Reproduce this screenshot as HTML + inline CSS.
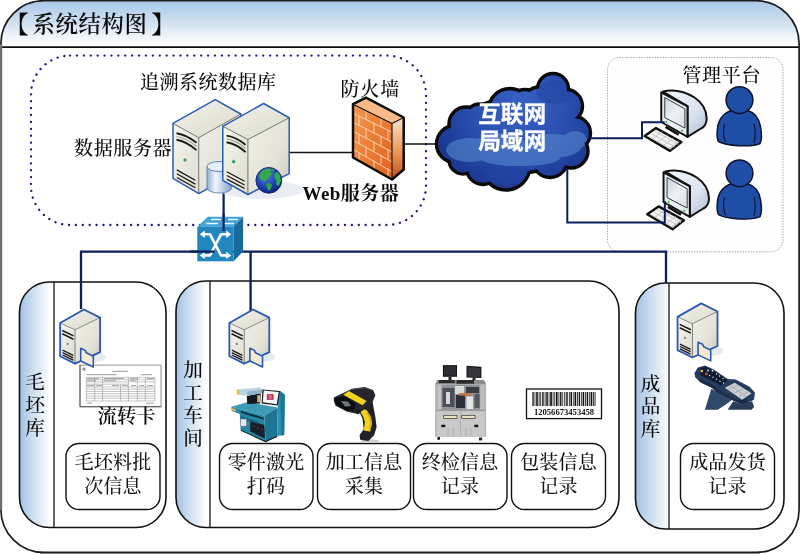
<!DOCTYPE html>
<html lang="zh-CN">
<head>
<meta charset="utf-8">
<title>系统结构图</title>
<style>
html,body{margin:0;padding:0;background:#fff;}
body{width:800px;height:554px;overflow:hidden;position:relative;}
svg{position:absolute;left:0;top:0;display:block;will-change:transform;}
.song{font-family:"Liberation Serif","Noto Serif CJK SC",serif;}
.hei{font-family:"Liberation Sans","Noto Sans CJK SC",sans-serif;}
</style>
</head>
<body>
<svg width="800" height="554" viewBox="0 0 800 554">
<defs>
  <linearGradient id="hdr" x1="0" y1="0" x2="0" y2="1">
    <stop offset="0" stop-color="#a7c8e6"/>
    <stop offset="0.45" stop-color="#cddff0"/>
    <stop offset="0.85" stop-color="#f6f9fc"/>
    <stop offset="1" stop-color="#ffffff"/>
  </linearGradient>
  <linearGradient id="colA" x1="0" y1="0" x2="1" y2="0">
    <stop offset="0" stop-color="#a3c2e3"/>
    <stop offset="0.45" stop-color="#d3e2f2"/>
    <stop offset="0.9" stop-color="#ffffff"/>
  </linearGradient>
  <linearGradient id="colB" x1="0" y1="0" x2="1" y2="0">
    <stop offset="0" stop-color="#a4c3e4"/>
    <stop offset="0.5" stop-color="#d0e0f1"/>
    <stop offset="1" stop-color="#fbfdff"/>
  </linearGradient>
  <linearGradient id="srvTop" x1="0" y1="0" x2="1" y2="1">
    <stop offset="0" stop-color="#f3f3ea"/><stop offset="1" stop-color="#d9d9cd"/>
  </linearGradient>
  <linearGradient id="srvFront" x1="0" y1="0" x2="1" y2="1">
    <stop offset="0" stop-color="#f6f6ee"/><stop offset="1" stop-color="#dcdcd0"/>
  </linearGradient>
  <linearGradient id="srvSide" x1="0" y1="0" x2="1" y2="1">
    <stop offset="0" stop-color="#f0f0e7"/><stop offset="0.6" stop-color="#e3e3d8"/><stop offset="1" stop-color="#c9c9bd"/>
  </linearGradient>
  <linearGradient id="dbBody" x1="0" y1="0" x2="1" y2="0">
    <stop offset="0" stop-color="#8fb0d6"/><stop offset="0.35" stop-color="#f2f7fc"/><stop offset="1" stop-color="#7f9fc8"/>
  </linearGradient>
  <radialGradient id="globeG" cx="0.38" cy="0.32" r="0.75">
    <stop offset="0" stop-color="#4f7fe0"/><stop offset="0.6" stop-color="#1f3fae"/><stop offset="1" stop-color="#0d1f6e"/>
  </radialGradient>
  <linearGradient id="fwFront" x1="0" y1="0" x2="1" y2="1">
    <stop offset="0" stop-color="#f59a52"/><stop offset="1" stop-color="#e2601a"/>
  </linearGradient>
  <linearGradient id="fwSide" x1="0" y1="0" x2="0" y2="1">
    <stop offset="0" stop-color="#f9e2cc"/><stop offset="0.5" stop-color="#f0a060"/><stop offset="1" stop-color="#c24e10"/>
  </linearGradient>
  <radialGradient id="cloudG" gradientUnits="userSpaceOnUse" cx="520" cy="105" r="95">
    <stop offset="0" stop-color="#3762c4"/><stop offset="0.5" stop-color="#2a4fb0"/><stop offset="1" stop-color="#19348e"/>
  </radialGradient>
  <linearGradient id="crtBack" x1="0" y1="0" x2="1" y2="1">
    <stop offset="0" stop-color="#f4f7fb"/><stop offset="0.6" stop-color="#dbe3ef"/><stop offset="1" stop-color="#aebcd4"/>
  </linearGradient>
  <linearGradient id="crtScreen" x1="0" y1="0" x2="1" y2="1">
    <stop offset="0" stop-color="#c9d3e2"/><stop offset="0.5" stop-color="#eef2f7"/><stop offset="1" stop-color="#d5dde9"/>
  </linearGradient>
  <g id="cloudCircles">
    <circle cx="455" cy="144" r="16.8"/><circle cx="466" cy="124" r="15.3"/><circle cx="480" cy="120" r="14.3"/><circle cx="510" cy="110" r="19.8"/><circle cx="525" cy="105" r="13.8"/><circle cx="553" cy="89" r="13.8"/><circle cx="566" cy="106" r="14.8"/><circle cx="574" cy="133" r="14.8"/><circle cx="571" cy="151" r="15.3"/><circle cx="550" cy="160" r="15.8"/><circle cx="506" cy="166" r="22.3"/><circle cx="463" cy="160" r="12.3"/><circle cx="483" cy="168" r="14.8"/><ellipse cx="515" cy="136" rx="58" ry="36"/><circle cx="543" cy="112" r="24"/><circle cx="495" cy="140" r="30"/><circle cx="548" cy="138" r="30"/><circle cx="470" cy="142" r="18"/>
  </g>
  <g id="pcMon">
    <path d="M663 91.500C672 89.500 684 91 694.500 97.500C702 102.500 706.500 110 706.700 118.500C706.500 124 703.500 127.500 701 128.500L687.500 136.900V106.250Z" fill="url(#crtBack)" stroke="#111" stroke-width="2" stroke-linejoin="round"/>
    <polygon points="661.250,92.250 687.500,106.250 687.500,136.900 661.250,122" fill="#e9edf3" stroke="#111" stroke-width="2" stroke-linejoin="round"/>
    <polygon points="664.750,97.500 684.900,108.900 684.900,128.100 664.750,117.600" fill="url(#crtScreen)" stroke="#3a3a3a" stroke-width="1"/>
    <path d="M665.600 126.800L678.750 134.600" stroke="#111" stroke-width="2.600"/>
    <circle cx="666.300" cy="122" r="1.500" fill="#5ab85a" stroke="#e8f6e8" stroke-width="0.600"/>
    <circle cx="681.900" cy="130.750" r="1.500" fill="#5ab85a" stroke="#e8f6e8" stroke-width="0.600"/>
  </g>
  <g id="pcKb">
    <polygon points="644.600,136 656,128.100 681.400,142.100 670,150.900" fill="#f2f2f2" stroke="#111" stroke-width="2.400" stroke-linejoin="round"/>
    <path d="M648.500 136.500l23 13M652 134l23 13M655.500 131.500l23 13M652.500 139l10-7.500M658 142.200l10-7.500M663.500 145.400l10-7.500M669 148.500l10-7.500" stroke="#b8b8b8" stroke-width="0.700" fill="none"/>
  </g>
  <g id="person">
    <path d="M731.500 110.500C724 112.500 718.500 119 717.500 128C716.800 134 717 139 718.500 141.500C726 146 752 147.500 760 143.500C761.800 140 761.500 132 760.500 126.500C759 118 754.500 112.500 747.500 110.500Z" fill="#1f4ea6" stroke="#0c1430" stroke-width="1.500" stroke-linejoin="round"/>
    <path d="M724.500 124C723 130 723.500 137 725.500 142M754 123.500C755.500 130 755.500 137 754 143" fill="none" stroke="#0c1430" stroke-width="1.100"/>
    <circle cx="739.500" cy="100.100" r="13.400" fill="#1f4ea6" stroke="#0c1430" stroke-width="1.500"/>
  </g>
  <clipPath id="cloudClip"><circle cx="455" cy="144" r="16.8"/><circle cx="466" cy="124" r="15.3"/><circle cx="480" cy="120" r="14.3"/><circle cx="510" cy="110" r="19.8"/><circle cx="525" cy="105" r="13.8"/><circle cx="553" cy="89" r="13.8"/><circle cx="566" cy="106" r="14.8"/><circle cx="574" cy="133" r="14.8"/><circle cx="571" cy="151" r="15.3"/><circle cx="550" cy="160" r="15.8"/><circle cx="506" cy="166" r="22.3"/><circle cx="463" cy="160" r="12.3"/><circle cx="483" cy="168" r="14.8"/><ellipse cx="515" cy="136" rx="58" ry="36"/><circle cx="543" cy="112" r="24"/><circle cx="495" cy="140" r="30"/><circle cx="548" cy="138" r="30"/><circle cx="470" cy="142" r="18"/></clipPath>
  <g id="ssrv" stroke-linejoin="round">
    <ellipse cx="93" cy="357" rx="13" ry="5" fill="#dfe5f0" opacity="0.800"/>
    <polygon points="60.150,323 83.850,309.500 100.100,317.600 75.050,329.800" fill="url(#srvTop)"/>
    <polygon points="75.050,329.800 100.100,317.600 100.100,352.100 75.050,363.600" fill="url(#srvSide)"/>
    <polygon points="60.150,323 75.050,329.800 75.050,363.600 60.150,356.200" fill="url(#srvFront)"/>
    <path d="M62.300 330.500l11.200 5.400M62.300 333.800l11.200 5.400" stroke="#1a1a1a" stroke-width="1.500" fill="none"/>
    <circle cx="67.600" cy="344" r="1.400" fill="#6a7a72" stroke="#f4f4f0" stroke-width="0.600"/>
    <path d="M62.600 350.200l10.600 5.200M62.600 352.600l10.600 5.200M62.600 355l10.600 5.200" stroke="#1a1a1a" stroke-width="1.300" fill="none"/>
    <path d="M75.050 329.800V363.600" stroke="#555" stroke-width="0.700"/>
    <path d="M60.150,323 75.050,329.800 100.100,317.600" fill="none" stroke="#444" stroke-width="0.600"/>
    <path d="M60.150,323 83.850,309.500 100.100,317.600 100.100,352.100 75.050,363.600 60.150,356.200Z" fill="none" stroke="#2a58b2" stroke-width="1.800"/>
    <path d="M80.700 348.300L85.200 350.400L86.300 352.800L93.300 356.200V367L80.700 361Z" fill="#f3ecd0" stroke="#2a58b2" stroke-width="1.600"/>
  </g>
  <clipPath id="frameClip"><rect x="0.900" y="0.700" width="798.200" height="551.700" rx="43" ry="43"/></clipPath>
  <clipPath id="clipM"><rect x="19.5" y="282" width="146.500" height="245.500" rx="30" ry="30"/></clipPath>
  <clipPath id="clipJ"><rect x="176" y="281" width="443" height="246.500" rx="30" ry="30"/></clipPath>
  <clipPath id="clipC"><rect x="635.500" y="283" width="148.500" height="246" rx="30" ry="30"/></clipPath>
</defs>

<!-- ===== outer frame ===== -->
<g id="frame">
  <rect x="0.900" y="0.700" width="798.200" height="551.700" rx="43" ry="43" fill="#fff"/>
  <rect x="0" y="0" width="800" height="47" fill="url(#hdr)" clip-path="url(#frameClip)"/>
  <line x1="1" y1="47.100" x2="799" y2="47.100" stroke="#111" stroke-width="1.700"/>
  <rect x="0.900" y="0.700" width="798.200" height="551.700" rx="43" ry="43" fill="none" stroke="#1c1c1c" stroke-width="1.700"/>
  <rect x="0" y="44" width="2.200" height="466" fill="#6f6d6d"/>
  <rect x="40" y="553.200" width="720" height="0.800" fill="#7a7a7a"/>
  <g class="song" font-weight="600" fill="#0a0a0a">
    <text x="4.800" y="32.500" font-size="24">【</text>
    <text x="32.600" y="32" font-size="22.400" letter-spacing="0.600">系统结构图</text>
    <text x="151.300" y="32.500" font-size="24">】</text>
  </g>
</g>

<!-- ===== dotted database zone ===== -->
<g id="dotted">
  <rect x="31" y="55.600" width="395" height="169.400" rx="39" ry="39" fill="none" stroke="#18188c" stroke-width="2.300" stroke-linecap="round" stroke-dasharray="0.100 6.800"/>
  <rect x="607.500" y="57.500" width="175.500" height="194.300" rx="12" ry="12" fill="#fefefe" stroke="#9a9a9a" stroke-width="0.800" stroke-dasharray="1.500 1.200"/>
</g>
<!-- ===== workshop / warehouse panels ===== -->
<g id="boxes">
  <rect x="19.500" y="282" width="146.500" height="245.500" rx="30" ry="30" fill="#fff"/>
  <rect x="19.500" y="282" width="34.500" height="245.500" fill="url(#colA)" clip-path="url(#clipM)"/>
  <line x1="54" y1="282" x2="54" y2="527.500" stroke="#111" stroke-width="1.300"/>
  <rect x="19.500" y="282" width="146.500" height="245.500" rx="30" ry="30" fill="none" stroke="#111" stroke-width="1.600"/>

  <rect x="176" y="281" width="443" height="246.500" rx="30" ry="30" fill="#fff"/>
  <rect x="176" y="281" width="34" height="246.500" fill="url(#colA)" clip-path="url(#clipJ)"/>
  <line x1="210" y1="281" x2="210" y2="527.500" stroke="#111" stroke-width="1.300"/>
  <rect x="176" y="281" width="443" height="246.500" rx="30" ry="30" fill="none" stroke="#111" stroke-width="1.600"/>

  <rect x="635.500" y="283" width="148.500" height="246" rx="30" ry="30" fill="#fff"/>
  <rect x="635.500" y="283" width="33.500" height="246" fill="url(#colB)" clip-path="url(#clipC)"/>
  <line x1="669" y1="283" x2="669" y2="529" stroke="#111" stroke-width="1.300"/>
  <rect x="635.500" y="283" width="148.500" height="246" rx="30" ry="30" fill="none" stroke="#111" stroke-width="1.600"/>

  <g fill="#fff" stroke="#111" stroke-width="1.400">
    <rect x="66" y="443.500" width="94" height="66" rx="13" ry="13"/>
    <rect x="219.500" y="443.500" width="93.500" height="66" rx="13" ry="13"/>
    <rect x="317.500" y="443.500" width="93" height="66" rx="13" ry="13"/>
    <rect x="413.500" y="443.500" width="93.500" height="66" rx="13" ry="13"/>
    <rect x="511.500" y="443.500" width="94" height="66" rx="13" ry="13"/>
    <rect x="680.500" y="443.500" width="94" height="66" rx="13" ry="13"/>
  </g>
</g>
<!-- ===== network lines ===== -->
<g id="lines" fill="none" stroke="#0b1d5a" stroke-width="2.300">
  <path d="M81 309V251.600H666V283"/>
  <path d="M250.600 251.600V311"/>
  <path d="M223.600 193V232" stroke-width="2.200"/>
  <path d="M288 152.500H353" stroke="#111" stroke-width="1.600"/>
  <path d="M403 144H440" stroke="#111" stroke-width="1.600"/>
</g>
<!-- ===== big servers ===== -->
<g id="servers" stroke-linejoin="round">
  <ellipse cx="262" cy="190" rx="42" ry="9" fill="#dfe4ee" opacity="0.700"/>
  <!-- server 1 -->
  <g>
    <polygon points="173,123.400 215.200,99.700 240.800,114 198.750,137.700" fill="url(#srvTop)"/>
    <polygon points="198.750,137.700 240.800,114 240.800,170 198.750,193.600" fill="url(#srvSide)"/>
    <polygon points="173,123.400 198.750,137.700 198.750,193.600 173,178.400" fill="url(#srvFront)"/>
    <path d="M176.500 133.300q10 1.500 20 9.500M176.500 139.800q10 1.800 20 10.300" stroke="#1a1a1a" stroke-width="1.900" fill="none"/>
    <path d="M176.500 136.500q10 1.600 20 9.800" stroke="#a5a59a" stroke-width="1.200" fill="none"/>
    <circle cx="185" cy="160" r="2.100" fill="#2f9a5a" stroke="#e8f4ec" stroke-width="0.800"/>
    <path d="M176.800 169.900l18.500 10.400M176.800 173.700l18.500 10.400M176.800 177.500l18.500 10.200" stroke="#1a1a1a" stroke-width="1.300" fill="none"/>
    <path d="M198.750,137.700V193.600" stroke="#555" stroke-width="0.800"/>
    <path d="M173,123.400 215.200,99.700 240.800,114 240.800,170 198.750,193.600 173,178.400Z" fill="none" stroke="#2a5cb4" stroke-width="1.500"/>
    <path d="M173,123.400 198.750,137.700 240.800,114" fill="none" stroke="#444" stroke-width="0.700"/>
  </g>
  <!-- database cylinder -->
  <g>
    <path d="M207 166.500V188A12.250 5 0 0 0 231.500 188V166.500Z" fill="url(#dbBody)" stroke="#5f82b4" stroke-width="0.900"/>
    <ellipse cx="219.250" cy="166.500" rx="12.250" ry="5" fill="#e6eef8" stroke="#5a80b8" stroke-width="1"/>
  </g>
  <!-- server 2 -->
  <g>
    <polygon points="222.800,126.300 263.600,103.500 289.200,117.750 247.900,139.600" fill="url(#srvTop)"/>
    <polygon points="247.900,139.600 289.200,117.750 289.200,173.700 247.900,194.500" fill="url(#srvSide)"/>
    <polygon points="222.800,126.300 247.900,139.600 247.900,194.500 222.800,180.300" fill="url(#srvFront)"/>
    <path d="M226.600 135.600q10 1.500 19 9.300M226.600 142.200q10 1.800 19 9.900" stroke="#1a1a1a" stroke-width="1.900" fill="none"/>
    <path d="M226.600 138.900q10 1.600 19 9.600" stroke="#a5a59a" stroke-width="1.200" fill="none"/>
    <circle cx="233.600" cy="161.700" r="2.100" fill="#2f9a5a" stroke="#e8f4ec" stroke-width="0.800"/>
    <path d="M226.800 171.800l17.800 9.500M226.800 175.500l17.800 9.500M226.800 179.200l17.800 9.300" stroke="#1a1a1a" stroke-width="1.300" fill="none"/>
    <path d="M247.900,139.600V194.500" stroke="#555" stroke-width="0.800"/>
    <path d="M222.800,126.300 263.600,103.500 289.200,117.750 289.200,173.700 247.900,194.500 222.800,180.300Z" fill="none" stroke="#2a5cb4" stroke-width="1.500"/>
    <path d="M222.800,126.300 247.900,139.600 289.200,117.750" fill="none" stroke="#444" stroke-width="0.700"/>
  </g>
  <!-- globe -->
  <g>
    <circle cx="268.850" cy="180.300" r="12.900" fill="url(#globeG)"/>
    <path d="M259.6,174.1 263.0,170.2 267.5,168.5 272.0,169.1 270.3,171.9 273.1,173.6 269.7,175.8 267.5,179.2 264.1,181.4 261.3,180.3 259.1,177.5Z" fill="#35a84c"/>
    <path d="M274.8,173.0 277.6,171.9 280.4,175.2 281.0,180.9 278.7,185.9 275.9,184.2 276.5,180.3 274.2,177.5Z" fill="#35a84c"/>
    <path d="M265.8,184.2 269.2,182.6 272.0,184.8 270.9,188.7 268.1,191.0 266.9,187.6Z" fill="#2fa048"/>
    <path d="M272.0,169.6 274.8,169.4 274.2,171.3 272.6,171.6Z" fill="#35a84c"/>
    <circle cx="268.850" cy="180.300" r="12.900" fill="none" stroke="#12206a" stroke-width="0.900"/>
  </g>
</g>

<!-- ===== firewall ===== -->
<g id="firewall" stroke-linejoin="round">
  <polygon points="353,104.200 366,97.700 403.700,117.500 392,123.500" fill="#f7b98a"/>
  <polygon points="392,123.500 403.700,117.500 403.700,169.500 392,179.500" fill="url(#fwSide)"/>
  <polygon points="353,104.200 392,123.500 392,179.500 353,157.500" fill="url(#fwFront)"/>
  <g stroke="#fbdcc0" stroke-width="0.900" fill="none">
    <path d="M352.500 113l40 19.400M352.500 122l40 20.300M352.500 131l40 21.200M352.500 140l40 22.100M352.500 149l40 23"/>
    <path d="M366 110.300v9.300M381 117.200v9.500M359 116.200v9.200M374 123.500v9.400M388 130.200v9.700M366 128.600v9.300M381 136v9.500M359 134.200v9.300M374 142v9.500M388 149.300v9.600M366 146.700v9.400M381 154.600v9.500M359 152.200v9M374 160.500v9.200M388 168.400v9"/>
  </g>
  <path d="M353,104.200 366,97.700 403.700,117.500 403.700,169.500 392,179.500 353,157.500Z" fill="none" stroke="#0c0c0c" stroke-width="2.500"/>
  <path d="M353,104.200 392,123.500 403.700,117.500M392,123.500V179.500" fill="none" stroke="#111" stroke-width="1.100"/>
</g>
<!-- ===== cloud ===== -->
<g id="cloud">
  <use href="#cloudCircles" fill="#0a0a0a" stroke="#0a0a0a" stroke-width="6.800"/>
  <use href="#cloudCircles" fill="url(#cloudG)" stroke="url(#cloudG)" stroke-width="0" transform="translate(0 0)"/>
  <g fill="#5b8fd2" opacity="0.550" clip-path="url(#cloudClip)">
    <ellipse cx="470" cy="150" rx="24" ry="12"/><ellipse cx="500" cy="146" rx="26" ry="13"/>
    <ellipse cx="552" cy="146" rx="30" ry="12"/><ellipse cx="575" cy="140" rx="12" ry="9"/>
    <ellipse cx="520" cy="158" rx="40" ry="8"/>
  </g>
  <g fill="#24449f" opacity="0.500" clip-path="url(#cloudClip)">
    <ellipse cx="508" cy="176" rx="22" ry="9"/><ellipse cx="556" cy="92" rx="20" ry="12"/>
  </g>
  <g class="hei" font-weight="700" font-size="22.700" fill="#fff" text-anchor="middle" stroke="#fff" stroke-width="0.300">
    <text x="512.200" y="121.700">互联网</text>
    <text x="512.200" y="148.700">局域网</text>
  </g>
</g>

<!-- ===== switch ===== -->
<g id="switch" stroke-linejoin="round">
  <polygon points="197.300,226.700 207.900,216.700 243.100,216.700 233.700,226.700" fill="#3fa3d3"/>
  <polygon points="233.700,226.700 243.100,216.700 243.100,251.300 233.700,261.300" fill="#19699b"/>
  <rect x="197.300" y="226.700" width="36.400" height="34.600" fill="#2287bf"/>
  <g stroke="#fff" stroke-width="1.300" fill="none" opacity="0.900">
    <path d="M206 223.500h12M224 223.500h10M211 219.500h10M228 219.500h10"/>
  </g>
  <g stroke="#fff" stroke-width="2.600" fill="none">
    <path d="M203 234.300H210L221 255.400H228"/>
    <path d="M228 234.300H221L210 255.400H203"/>
  </g>
  <g fill="#fff">
    <polygon points="199.800,234.300 204.800,230.600 204.800,238"/>
    <polygon points="231.200,234.300 226.200,230.600 226.200,238"/>
    <polygon points="199.800,255.400 204.800,251.700 204.800,259.100"/>
    <polygon points="231.200,255.400 226.200,251.700 226.200,259.100"/>
  </g>
  <path d="M223.600 214V231" stroke="#0b1d5a" stroke-width="2.200"/>
  <path d="M190 251.600H214.500" stroke="#0b1d5a" stroke-width="2.300"/>
</g>

<!-- ===== management PCs and users ===== -->
<use href="#pcKb"/>
<use href="#pcMon"/>
<use href="#pcKb" transform="translate(2.600 78.300)"/>
<use href="#pcMon" transform="translate(2.300 80)"/>
<use href="#person"/>
<use href="#person" transform="translate(0 73.200)"/>
<g fill="none" stroke="#0b1d5a" stroke-width="2">
  <path d="M588 138.300H642V122.300H664.500"/>
  <path d="M567.300 168V222.600H664.800V201"/>
</g>
<!-- ===== routing card document ===== -->
<g id="doc">
  <rect x="81" y="366" width="81" height="41.600" fill="#d8d8d8" opacity="0.700"/>
  <rect x="80" y="365.100" width="81" height="41.600" fill="#fff" stroke="#8a8a8a" stroke-width="0.900"/>
  <path d="M80 365.100V406.700H161" fill="none" stroke="#555" stroke-width="1"/>
  <circle cx="84" cy="369.200" r="1.200" fill="#fff" stroke="#333" stroke-width="0.700"/>
  <path d="M112 371.300h16M86.500 374.700h30M141 374.700h11" stroke="#8f8f8f" stroke-width="0.900"/>
  <g stroke="#808080" stroke-width="0.450" fill="none">
    <path d="M86.250 377.400H154.900M86.250 379.700H154.900M86.250 381.900H154.900M86.250 384.200H128.400M86.250 387H154.900M86.250 389.200H154.900M86.250 391.500H154.900M86.250 393.700H154.900M86.250 396H154.900M86.250 398.200H154.900M86.250 401H154.900"/>
    <path d="M86.250 377.400V401M94.700 377.400V401M102.600 377.400V401M120.600 384.200V401M128.400 377.400V401M137.400 377.400V401M145.300 377.400V401M154.900 377.400V401"/>
  </g>
  <path d="M87 378.600h12M104 378.600h20M130 378.600h8M147 378.600h7M87 380.800h9M104 380.800h12M130 380.800h6M87 385.600h7M96 385.600h6M112 385.600h7M122 385.600h6M131 385.600h5M139 385.600h5M147 385.600h6M87 403.200h5M146 403.200h8" stroke="#8a8a8a" stroke-width="0.800"/>
</g>

<!-- ===== small servers ===== -->
<use href="#ssrv"/>
<use href="#ssrv" transform="translate(169.200 0)"/>
<use href="#ssrv" transform="translate(617.400 -6.100)"/>

<!-- ===== laser marking machine ===== -->
<g id="laser" stroke-linejoin="round">
  <polygon points="240.800,428 265.500,439.500 277.200,434.500 277.200,437 265.500,442.200 240.800,430.800" fill="#10161e"/>
  <polygon points="277.800,392.900 280.100,391.100 284.800,394.700 284.200,435.100 277.200,436 277.800,408.700" fill="#2a93b2"/>
  <polygon points="280.100,391.100 284.800,394.700 284.200,435.100 281.500,435.600" fill="#1f7593"/>
  <polygon points="231.400,406.700 247.900,402 277.800,407.600 264.300,415.800" fill="#3d9bb8"/>
  <polygon points="231.400,406.700 264.300,415.800 265.500,441 240.800,429.800 239.700,414 231.800,411.100" fill="#2487a6"/>
  <polygon points="264.300,415.800 277.800,407.600 277.200,435.700 265.500,441" fill="#1e7694"/>
  <polygon points="250.200,420.500 264.300,425.100 264.900,438.600 250.200,431.600" fill="#16202c"/>
  <polygon points="240.800,410.700 263.700,417.750 263.700,419.800 240.800,412.700" fill="#15303c"/><polygon points="240.800,416.200 258,421.600 258,423.800 240.800,418.200" fill="#1a5f7a"/>
  <rect x="240.400" y="418.900" width="6.200" height="7.400" fill="#e4e8ea" stroke="#4a5a60" stroke-width="0.500"/>
  <path d="M253 426.500h1.500M257 428h1.500M261 429.500h1.500" stroke="#c03030" stroke-width="1.200"/>
  <polygon points="232,408.100 236,409.300 236,411.500 232,410.400" fill="#d9b458"/>
  <polygon points="246.700,395.800 260.800,392.900 260.200,403.500 247.300,404" fill="#141a22"/>
  <polygon points="236.700,389.400 260.200,387.600 263.100,390 262.500,392.900 247.300,395.800 237.300,394.700" fill="#b9d3e2"/>
  <polygon points="247.300,391.500 262.800,390 262.500,392.900 247.300,395.800" fill="#8fb3c8"/>
  <rect x="236.700" y="390" width="3" height="4.200" fill="#e6c63e"/>
  <rect x="257.200" y="395.200" width="3" height="7.100" fill="#d8b070"/>
  <polygon points="262.500,389.400 279.900,391.100 277.800,405.600 261.600,403.500" fill="#15181c"/>
  <polygon points="263.700,390.600 278.700,392.100 276.800,404.300 262.800,402.300" fill="#f4f6f8"/>
  <rect x="266.800" y="394.100" width="6.800" height="5.800" fill="#c03450"/>
  <path d="M268.500 396h3.400M268.500 398h3.400" stroke="#f4d8dc" stroke-width="0.700"/>
</g>

<!-- ===== barcode scanner gun ===== -->
<g id="scanner" stroke-linejoin="round">
  <ellipse cx="370" cy="441" rx="9" ry="1.800" fill="#cfcfcf"/>
  <polygon points="357.500,407.500 372.500,401.500 375.400,417.500 376.600,426.900 374.200,435.100 368.400,441 360.200,439.800 359.600,435.100 363.700,429.200 362.500,418.700" fill="#1f2126"/>
  <polygon points="360.200,411.700 364.900,409.300 370.100,415.200 371.900,423.400 370.100,431.600 363.700,430.400 364.900,422.200 363.100,416.300" fill="#f3d31c"/>
  <polygon points="364.900,409.300 367.500,410.800 371.300,418 371.900,423.400 370.100,431.600 368.600,431.300 370,423.400 368.600,416.500" fill="#d4b010"/>
  <polygon points="333.800,397.600 352,388.800 364.900,387 373.100,390 375.400,395.200 371.900,403.500 363.700,409.300 357.800,414 347.300,411.700 335.600,405.800 333.800,401.100" fill="#24262c"/>
  <polygon points="334.500,398.500 345,396 355.500,403.500 354.300,410.500 346.700,411 336.200,405.200" fill="#0c0d10"/>
  <polygon points="341,401 348,401.500 351,406 345,406.500" fill="#6f757c"/>
  <polygon points="343.200,394.700 349,391.100 366.600,401.100 362.500,405.200" fill="#f3d31c"/>
  <path d="M352 389.500L364.500 387.800L372 390.500" fill="none" stroke="#4a4d55" stroke-width="1"/>
  <polygon points="356,411 360,409.500 360.600,413 357.500,414.300" fill="#15161a"/>
</g>

<!-- ===== final inspection machine ===== -->
<g id="inspect">
  <rect x="437.400" y="437" width="2.600" height="2.800" fill="#222"/><rect x="479" y="437.600" width="3.200" height="2.800" fill="#222"/>
  <rect x="435.100" y="384" width="51" height="52.800" fill="#b4b4b4"/>
  <polygon points="437.500,380 484,380 486.100,384 435.100,384" fill="#8e8e8e"/>
  <rect x="438.800" y="380" width="16" height="3.100" fill="#2a2a2a"/><rect x="456.500" y="380" width="17.500" height="3.700" fill="#2a2a2a"/>
  <rect x="437.400" y="384.700" width="47" height="25" fill="#8f9399"/>
  <rect x="437.400" y="384.700" width="4" height="25" fill="#c4c4c4"/><rect x="480.200" y="384.700" width="4.300" height="25" fill="#bdbdbd"/>
  <rect x="442.500" y="388" width="12" height="19" fill="#4a4f58"/>
  <rect x="446" y="392" width="4" height="12" fill="#d8d8d8"/>
  <rect x="455" y="386" width="9" height="8" fill="#d9dadc"/>
  <rect x="456" y="395" width="9" height="13" fill="#2c3038"/>
  <rect x="466" y="387" width="13" height="6" fill="#3a3d44"/>
  <rect x="466.500" y="396.500" width="6.500" height="12.500" fill="#e6e6e6"/>
  <rect x="474.500" y="394" width="5" height="14" fill="#55595f"/>
  <rect x="459" y="393" width="12" height="2.600" fill="#c07a4a"/>
  <rect x="436.600" y="410.600" width="48" height="26" fill="#c9c9c9"/>
  <path d="M436.600 410.600H484.600" stroke="#8a8a8a" stroke-width="0.800"/>
  <rect x="443.700" y="415.300" width="13.300" height="3.200" fill="#e9e2c4" stroke="#333" stroke-width="0.700"/>
  <rect x="461.700" y="415.300" width="13.400" height="3.200" fill="#e9e2c4" stroke="#333" stroke-width="0.700"/>
  <rect x="441.300" y="424.700" width="4" height="2.500" fill="#1a1a1a"/><rect x="474.300" y="424.700" width="4" height="2.500" fill="#1a1a1a"/>
  <path d="M448 428v8M453 428v8M466 428v8M471 428v8M460.500 411v25" stroke="#a8a8a8" stroke-width="0.800"/>
  <rect x="442.900" y="365.100" width="14.100" height="11.700" fill="#17181b"/>
  <rect x="444" y="366.200" width="11.900" height="9.300" fill="#2c2e33"/>
  <rect x="448.500" y="376.800" width="3" height="3.200" fill="#222"/>
  <polygon points="466.500,365.800 481.400,366.800 481.400,378.100 466.500,377.500" fill="#17181b"/>
  <polygon points="467.600,367 480.300,367.900 480.300,376.900 467.600,376.400" fill="#34363c"/>
  <rect x="472.500" y="377.800" width="3" height="2.400" fill="#222"/>
</g>

<!-- ===== barcode label ===== -->
<g id="barcode">
  <rect x="526.500" y="389" width="75" height="29.600" fill="#fff" stroke="#111" stroke-width="1.300"/>
  <g fill="#111">
    <rect x="532.400" y="392" width="1.300" height="14"/><rect x="534.600" y="392" width="0.700" height="14"/><rect x="536.200" y="392" width="1.600" height="14"/>
    <rect x="538.700" y="392" width="0.800" height="14"/><rect x="540.300" y="392" width="0.800" height="14"/><rect x="542" y="392" width="1.800" height="14" fill="#444"/>
    <rect x="544.700" y="392" width="0.800" height="14"/><rect x="546.300" y="392" width="1.500" height="14"/><rect x="548.700" y="392" width="0.700" height="14"/>
    <rect x="550.200" y="392" width="1.700" height="14"/><rect x="552.700" y="392" width="0.800" height="14"/><rect x="554.400" y="392" width="0.800" height="14"/>
    <rect x="556" y="392" width="1.600" height="14"/><rect x="558.500" y="392" width="0.800" height="14"/><rect x="560.100" y="392" width="1.400" height="14"/>
    <rect x="562.400" y="392" width="0.700" height="14"/><rect x="564" y="392" width="0.700" height="14"/><rect x="565.600" y="392" width="2.400" height="14" fill="#555"/>
    <rect x="568.900" y="392" width="0.800" height="14"/><rect x="570.500" y="392" width="1.500" height="14"/><rect x="572.900" y="392" width="0.700" height="14"/>
    <rect x="574.500" y="392" width="1.700" height="14"/><rect x="577" y="392" width="0.800" height="14"/><rect x="578.700" y="392" width="1.400" height="14"/>
    <rect x="581" y="392" width="0.700" height="14"/><rect x="582.600" y="392" width="1.600" height="14"/><rect x="585" y="392" width="0.800" height="14"/>
    <rect x="586.700" y="392" width="1.500" height="14"/><rect x="589" y="392" width="0.700" height="14"/><rect x="590.600" y="392" width="1.700" height="14"/>
    <rect x="593.100" y="392" width="0.800" height="14"/><rect x="594.600" y="392" width="0.900" height="14"/>
  </g>
  <text x="564" y="414.600" text-anchor="middle" font-family="'Liberation Serif',serif" font-weight="700" font-size="8.600" fill="#111">12056673453458</text>
</g>

<!-- ===== handheld terminal ===== -->
<g id="pda" stroke-linejoin="round">
  <polygon points="704.9,409.7 711.3,388.8 720.8,393.8 732.2,399.7 726.2,404.2 717.8,409.7" fill="#30486a"/>
  <polygon points="727.7,409.7 733.2,401.2 740.6,404.2 752.1,401.2 754.1,406.7 751.6,409.7" fill="#283b58"/>
  <polygon points="694.500,372.900 697.900,367.500 704.900,365.500 713.800,369.400 727.700,378.900 735.700,379.400 749.600,386.800 755,392.800 754,399.700 747.600,402.700 740.600,404.200 731.700,399.700 717.800,392.800 711.800,387.800 699.900,381.900 695,376.900" fill="#263c5e"/>
  <polygon points="699.900,381.900 711.800,387.800 717.800,392.800 731.700,399.700 740.600,404.200 747.600,402.700 747,399 738,400 722,392 712,384.500 700.500,378.500" fill="#1a2c48"/>
  <polygon points="699.500,369 705.500,366.500 727.700,380 721,385.500 701,375.500" fill="#101c32"/>
  <g fill="#e8ecf2">
    <circle cx="708" cy="370.500" r="0.900"/><circle cx="712.500" cy="370.700" r="0.900"/><circle cx="709.500" cy="375.500" r="0.700"/><circle cx="713" cy="377.300" r="0.700"/>
    <circle cx="716.500" cy="374" r="0.700"/><circle cx="719.500" cy="376" r="0.700"/><circle cx="716.500" cy="379.200" r="0.700"/><circle cx="720" cy="381.200" r="0.700"/>
    <circle cx="723" cy="378.500" r="0.700"/><circle cx="723.500" cy="383" r="0.700"/>
  </g>
  <circle cx="701.800" cy="371" r="1.300" fill="#e6d24a"/><circle cx="706.400" cy="374" r="1.400" fill="#d23a4a"/>
  <polygon points="724.750,387.800 734.700,382.800 751.600,393.300 742.100,399.700" fill="#c9cdd2"/>
  <path d="M729.700 385.300l17 11.200M728 390l10-5M733.500 393.500l10-5M738.500 397l10-5.400" stroke="#8e98a6" stroke-width="0.600" fill="none"/>
</g>
<!-- ===== labels ===== -->
<g id="labels" class="song" fill="#0a0a0a" font-size="19" letter-spacing="0.150" font-weight="500">
  <text x="140" y="89.200" letter-spacing="0.480">追溯系统数据库</text>
  <text x="74" y="154.800" letter-spacing="0.650">数据服务器</text>
  <text x="340.400" y="96.200" letter-spacing="0.950">防火墙</text>
  <text x="302.600" y="200" font-weight="700" letter-spacing="0.430">Web服务器</text>
  <text x="682.400" y="81.800" letter-spacing="0.680">管理平台</text>
  <text x="97.500" y="422.800" font-weight="600" font-size="19.400" letter-spacing="0">流转卡</text>
  <g font-size="19.600" text-anchor="middle" font-weight="500">
    <text x="35.200" y="389">毛</text><text x="35.200" y="411.800">坯</text><text x="35.200" y="434.500">库</text>
    <text x="193.200" y="376.500">加</text><text x="193.200" y="399.500">工</text><text x="193.200" y="422.300">车</text><text x="193.200" y="445">间</text>
    <text x="650.700" y="391">成</text><text x="650.700" y="413.200">品</text><text x="650.700" y="436">库</text>
  </g>
  <g font-size="19" text-anchor="middle" fill="#161616" font-weight="500">
    <text x="113" y="468.500">毛坯料批</text><text x="113" y="493">次信息</text>
    <text x="266" y="468.500">零件激光</text><text x="266" y="493">打码</text>
    <text x="364" y="468.500">加工信息</text><text x="364" y="493">采集</text>
    <text x="460" y="468.500">终检信息</text><text x="460" y="493">记录</text>
    <text x="558.500" y="468.500">包装信息</text><text x="558.500" y="493">记录</text>
    <text x="727.500" y="468.500">成品发货</text><text x="727.500" y="493">记录</text>
  </g>
</g>
</svg>
</body>
</html>
